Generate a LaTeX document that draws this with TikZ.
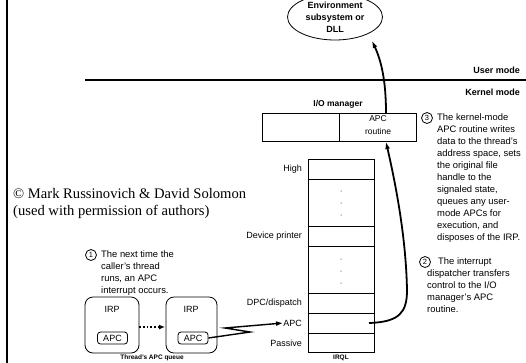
\documentclass[tikz,border=0pt]{standalone}
\usepackage{fontspec}
\setmainfont{Liberation Sans}
\newfontfamily\serifcopy{Liberation Serif}
\usetikzlibrary{arrows.meta,shapes.geometric}
\tikzset{
  lbl/.style={font=\fontsize{9}{11}\selectfont, inner sep=0pt},
  note/.style={font=\fontsize{9.4}{12}\selectfont, inner sep=0pt, align=left, anchor=north west},
  bold/.style={font=\fontsize{9}{11}\selectfont\bfseries, inner sep=0pt},
  cellbox/.style={draw, line width=0.7pt},
  numcirc/.style={draw, circle, line width=0.8pt, minimum size=11pt, inner sep=0pt, font=\fontsize{7.5}{7.5}\selectfont},
  queuebox/.style={draw, line width=0.8pt, rounded corners=8pt},
  apcbox/.style={draw, line width=0.8pt, rounded corners=3pt, font=\fontsize{9}{11}\selectfont, inner sep=0pt, minimum width=30pt, minimum height=12pt},
  bigarrow/.style={line width=1.8pt, -{Latex[length=7pt,width=5pt]}},
}
\begin{document}
\begin{tikzpicture}[x=1pt,y=-1pt]
\useasboundingbox (0,0) rectangle (526,362);
\fill[white] (0,0) rectangle (526,362);
\begin{scope}
\clip (0,0) rectangle (526,362);
% left border
\draw[line width=2.2pt] (7,-5) -- (7,370);
% mode separator
\draw[line width=2.6pt] (85,80) -- (530,80);
\node[bold, anchor=east] (user) at (520,70) {User mode};
\node[bold, anchor=east] (kernel) at (520,92) {Kernel mode};
% ellipse
\node[draw, ellipse, line width=0.8pt, minimum width=95pt, minimum height=46pt, align=center,
      font=\fontsize{9}{12}\selectfont\bfseries, inner sep=0pt] (env) at (335,17)
      {Environment\\subsystem or\\DLL};
% I/O manager
\node[bold, font=\fontsize{8.5}{10}\selectfont\bfseries] (iomgr) at (338,104) {I/O manager};
\draw[cellbox] (262,113) rectangle (416,141);
\draw[cellbox] (339,113) -- (339,141);
\node[lbl, align=center, font=\fontsize{8.5}{12.5}\selectfont] (apcr) at (378,125) {APC\\routine};
\coordinate (apcrtop) at (386,113);
\coordinate (apcrbot) at (386,142);
% IRQL stack
\draw[cellbox] (308,159) rectangle (374,352);
\foreach \yy in {179,226,246,293,313,333} \draw[cellbox] (308,\yy) -- (374,\yy);
\foreach \yy in {191,203,215,259,271,283} \fill (341,\yy) circle (0.5pt);
\node[lbl, anchor=east] (high) at (302,169) {High};
\node[lbl, anchor=east] (devp) at (302,236) {Device printer};
\node[lbl, anchor=east] (dpc) at (302,303) {DPC/dispatch};
\node[lbl, anchor=east] (apcl) at (302,323) {APC};
\node[lbl, anchor=east] (pass) at (302,343) {Passive};
\coordinate (apcrow) at (369,323);
\coordinate (envbot) at (372,41);
% arrows
\draw[bigarrow] (apcrtop) .. controls (386,80) and (381,60) .. (envbot);
\draw[bigarrow] (apcrow) .. controls (400,322) and (407,312) .. (407,290)
   .. controls (406,240) and (397,190) .. (apcrbot);
% step 3
\node[numcirc] (c3) at (427,118) {3};
\node[note] (t3) at (437,113.5) {The kernel-mode\\APC routine writes\\data to the thread's\\address space, sets\\the original file\\handle to the\\signaled state,\\queues any user-\\mode APCs for\\execution, and\\disposes of the IRP.};
% step 2
\node[numcirc] (c2) at (425,262) {2};
\node[note] (t2) at (427,257.5) {\hspace*{11pt}The interrupt\\dispatcher transfers\\control to the I/O\\manager's APC\\routine.};
% step 1
\node[numcirc] (c1) at (91,255) {1};
\node[note] (t1) at (101,250.5) {The next time the\\caller's thread\\runs, an APC\\interrupt occurs.};
% copyright
\node[inner sep=0pt, anchor=west, align=left, font=\serifcopy\fontsize{14.6}{17}\selectfont] (copy) at (13,203.5)
  {© Mark Russinovich \& David Solomon\\(used with permission of authors)};
% queue
\draw[queuebox] (85,297) rectangle (139,353);
\draw[queuebox] (166,297) rectangle (217,353);
\node[lbl] (irp1) at (112,309) {IRP};
\node[lbl] (irp2) at (191,309) {IRP};
\node[apcbox] (apc1) at (112.5,338) {APC};
\node[apcbox] (apc2) at (193,338) {APC};
\coordinate (q1r) at (139,327);
\coordinate (q2l) at (165,327);
\draw[line width=1.8pt, dotted, -{Latex[length=6pt,width=5pt]}] (q1r) -- (q2l);
\coordinate (zz1) at (250,332);
\coordinate (zz2) at (225,328);
\draw[line width=1.4pt, -{Latex[length=7pt,width=5pt]}] (apc2.east) -- (zz1) -- (zz2) -- (apcl.west);
% captions
\node[lbl, font=\fontsize{6.5}{8}\selectfont\bfseries] (cap1) at (152,357.8) {Thread's APC queue};
\node[lbl, font=\fontsize{6.5}{8}\selectfont\bfseries] (cap2) at (341,357.8) {IRQL};
\end{scope}
\end{tikzpicture}
\end{document}
